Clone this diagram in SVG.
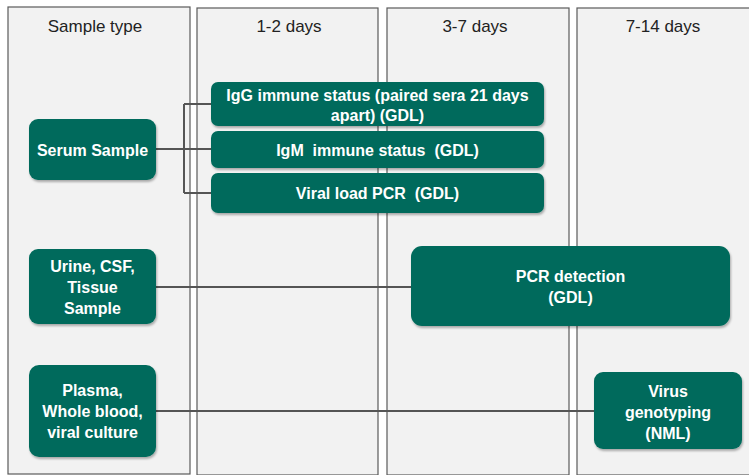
<svg xmlns="http://www.w3.org/2000/svg" width="749" height="475" viewBox="0 0 749 475">
<defs>
<filter id="sh" x="-10%" y="-10%" width="120%" height="130%">
<feDropShadow dx="1" dy="2" stdDeviation="1.2" flood-color="#000" flood-opacity="0.3"/>
</filter>
</defs>
<style>
.col{fill:#f2f2f2;stroke:#5a5a5a;stroke-width:1.2}
.hd{font-family:"Liberation Sans",Arial,sans-serif;font-size:17px;fill:#222;text-anchor:middle}
.box{fill:#006b5b;filter:url(#sh)}
.t{font-family:"Liberation Sans",Arial,sans-serif;font-weight:bold;font-size:16px;fill:#fff;text-anchor:middle;white-space:pre}
.ln{stroke:#555;stroke-width:2;fill:none}
</style>
<g id="columns">
<rect class="col" x="8" y="7" width="182" height="467"/>
<rect class="col" x="197" y="8" width="181" height="467"/>
<rect class="col" x="387" y="8" width="182" height="467"/>
<rect class="col" x="577" y="8" width="180" height="467"/>
<text class="hd" x="95" y="32">Sample type</text>
<text class="hd" x="289" y="32">1-2 days</text>
<text class="hd" x="475" y="32">3-7 days</text>
<text class="hd" x="663" y="32">7-14 days</text>
</g>
<g id="connectors">
<path class="ln" d="M156 149 H211 M184 104 V193 M184 104 H211 M184 193 H211"/>
<path class="ln" d="M156 287 H411"/>
<path class="ln" d="M156 411 H595"/>
</g>
<g id="serum">
<rect class="box" x="29" y="119" width="127" height="61" rx="9"/>
<text class="t" x="92.5" y="156">Serum Sample</text>
</g>
<g id="igg">
<rect class="box" x="211" y="82" width="333" height="44" rx="7"/>
<text class="t" x="377.5" y="101">IgG immune status (paired sera 21 days</text>
<text class="t" x="377.5" y="121">apart) (GDL)</text>
</g>
<g id="igm">
<rect class="box" x="211" y="131" width="333" height="37" rx="7"/>
<text class="t" x="377.5" y="156" xml:space="preserve">IgM  immune status  (GDL)</text>
</g>
<g id="viral">
<rect class="box" x="211" y="173" width="333" height="40" rx="7"/>
<text class="t" x="377.5" y="199" xml:space="preserve">Viral load PCR  (GDL)</text>
</g>
<g id="urine">
<rect class="box" x="29" y="249" width="127" height="75" rx="9"/>
<text class="t" x="92.5" y="272">Urine, CSF,</text>
<text class="t" x="92.5" y="293">Tissue</text>
<text class="t" x="92.5" y="314">Sample</text>
</g>
<g id="pcr">
<rect class="box" x="411" y="246" width="319" height="80" rx="11"/>
<text class="t" x="570.5" y="282">PCR detection</text>
<text class="t" x="570.5" y="303">(GDL)</text>
</g>
<g id="plasma">
<rect class="box" x="29" y="365" width="127" height="92" rx="10"/>
<text class="t" x="92.5" y="396">Plasma,</text>
<text class="t" x="92.5" y="417">Whole blood,</text>
<text class="t" x="92.5" y="438">viral culture</text>
</g>
<g id="virus">
<rect class="box" x="594" y="372" width="148" height="77" rx="9"/>
<text class="t" x="668" y="397">Virus</text>
<text class="t" x="668" y="418">genotyping</text>
<text class="t" x="668" y="439">(NML)</text>
</g>
</svg>
